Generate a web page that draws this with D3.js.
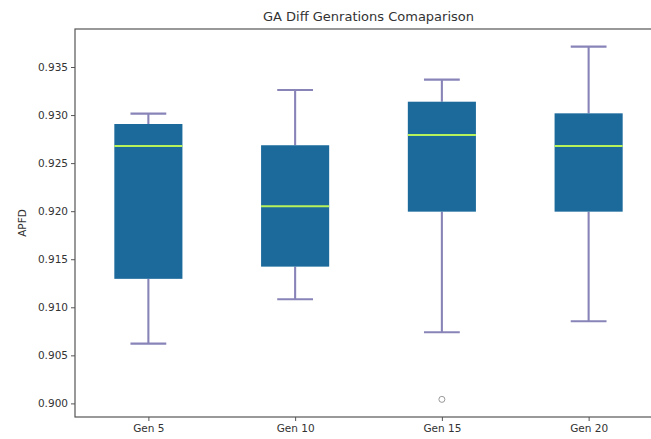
<!DOCTYPE html>
<html>
<head>
<meta charset="utf-8">
<script src="https://cdn.jsdelivr.net/npm/d3@7"></script>
<style>
  html, body { margin: 0; padding: 0; background: #fff; overflow: hidden; }
  svg { display: block; font-family: "DejaVu Sans", sans-serif; }
</style>
</head>
<body>
<svg id="chart" width="651" height="439"></svg>
<script>
// Box statistics per generation setting
const categories   = ["Gen 5", "Gen 10", "Gen 15", "Gen 20"];
const whiskerLow   = [0.90622, 0.91083, 0.90741, 0.90855];
const q1           = [0.91296, 0.91423, 0.91995, 0.91995];
const medians      = [0.92678, 0.92052, 0.92792, 0.92678];
const q3           = [0.92907, 0.92686, 0.93139, 0.93018];
const whiskerHigh  = [0.93015, 0.93261, 0.93369, 0.93712];
const outliers     = [[], [], [0.90042], []];
const yTicks       = [0.900, 0.905, 0.910, 0.915, 0.920, 0.925, 0.930, 0.935];

const title = "GA Diff Genrations Comaparison";
const yLabel = "APFD";

const svg = d3.select("#chart");
const margin = { left: 75, top: 29, right: 662, bottom: 417 };

// Position scale: boxes at 1..n, axis spans 0.5 .. n+0.5
const x = d3.scaleLinear()
  .domain([0.5, categories.length + 0.5])
  .range([margin.left, margin.right]);

// Value scale with 5% padding around all drawn values
const allVals = whiskerLow.concat(whiskerHigh, outliers.flat());
const lo = d3.min(allVals), hi = d3.max(allVals);
const pad = (hi - lo) * 0.05;
const y = d3.scaleLinear()
  .domain([lo - pad, hi + pad])
  .range([margin.bottom, margin.top]);

const boxHalf = 0.232;
const capHalf = 0.122;
const data = categories.map((c, i) => ({
  name: c, pos: i + 1,
  lo: whiskerLow[i], q1: q1[i], med: medians[i], q3: q3[i], hi: whiskerHigh[i],
  out: outliers[i]
}));

const boxFill = "#1c6a9c";
const whiskerColor = "#8884b8";
const medianColor = "#b8f25a";
const textColor = "#333";

const g = svg.append("g");

// Whiskers
g.selectAll("line.wlow").data(data).join("line")
  .attr("x1", d => x(d.pos)).attr("x2", d => x(d.pos))
  .attr("y1", d => y(d.q1)).attr("y2", d => y(d.lo))
  .attr("stroke", whiskerColor).attr("stroke-width", 2.1);
g.selectAll("line.whigh").data(data).join("line")
  .attr("x1", d => x(d.pos)).attr("x2", d => x(d.pos))
  .attr("y1", d => y(d.q3)).attr("y2", d => y(d.hi))
  .attr("stroke", whiskerColor).attr("stroke-width", 2.1);

// Caps
["lo", "hi"].forEach(k => {
  g.append("g").selectAll("line").data(data).join("line")
    .attr("x1", d => x(d.pos - capHalf)).attr("x2", d => x(d.pos + capHalf))
    .attr("y1", d => y(d[k])).attr("y2", d => y(d[k]))
    .attr("stroke", whiskerColor).attr("stroke-width", 2.1);
});

// Boxes
g.append("g").selectAll("rect").data(data).join("rect")
  .attr("x", d => x(d.pos - boxHalf))
  .attr("width", d => x(d.pos + boxHalf) - x(d.pos - boxHalf))
  .attr("y", d => y(d.q3))
  .attr("height", d => y(d.q1) - y(d.q3))
  .attr("fill", boxFill);

// Medians
g.append("g").selectAll("line").data(data).join("line")
  .attr("x1", d => x(d.pos - boxHalf)).attr("x2", d => x(d.pos + boxHalf))
  .attr("y1", d => y(d.med)).attr("y2", d => y(d.med))
  .attr("stroke", medianColor).attr("stroke-width", 2);

// Outliers
g.append("g").selectAll("circle")
  .data(data.flatMap(d => d.out.map(v => ({ pos: d.pos, v }))))
  .join("circle")
  .attr("cx", d => x(d.pos)).attr("cy", d => y(d.v)).attr("r", 3)
  .attr("fill", "none").attr("stroke", "#999").attr("stroke-width", 1);

// Axes
const yAxis = d3.axisLeft(y).tickValues(yTicks).tickFormat(d3.format(".3f")).tickSize(4).tickPadding(3);
const xAxis = d3.axisBottom(x).tickValues(data.map(d => d.pos))
  .tickFormat((d, i) => categories[i]).tickSize(4).tickPadding(4);

const ya = svg.append("g").attr("transform", `translate(${margin.left},0)`).call(yAxis);
const xa = svg.append("g").attr("transform", `translate(0,${margin.bottom})`).call(xAxis);
[ya, xa].forEach(a => {
  a.select(".domain").remove();
  a.selectAll(".tick line").attr("stroke", "#555");
  a.selectAll(".tick text").attr("fill", textColor).style("font-size", "10.5px").style("font-family", "DejaVu Sans");
});

// Frame
svg.append("rect")
  .attr("x", margin.left).attr("y", margin.top)
  .attr("width", margin.right - margin.left).attr("height", margin.bottom - margin.top)
  .attr("fill", "none").attr("stroke", "#555").attr("stroke-width", 1.2);

// Title
svg.append("text")
  .attr("x", (margin.left + margin.right) / 2).attr("y", 21)
  .attr("text-anchor", "middle").attr("fill", textColor)
  .style("font-size", "13px").text(title);

// Y label
svg.append("text")
  .attr("transform", `translate(26,${(margin.top + margin.bottom) / 2}) rotate(-90)`)
  .attr("text-anchor", "middle").attr("fill", textColor)
  .style("font-size", "10.5px").text(yLabel);
</script>
</body>
</html>
